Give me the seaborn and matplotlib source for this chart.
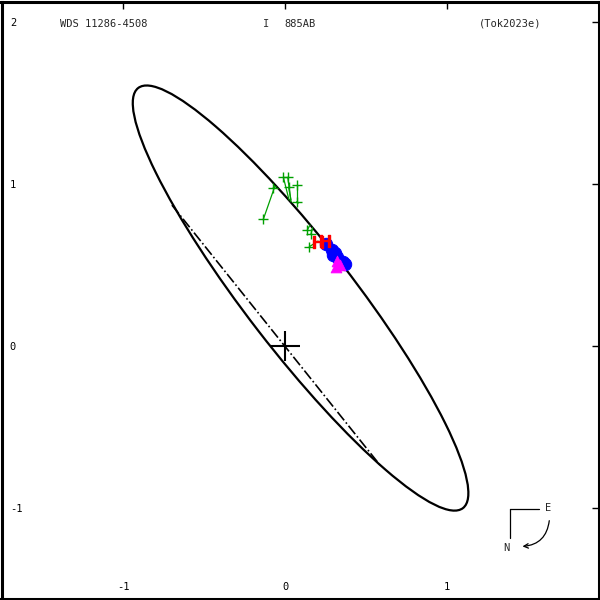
import matplotlib
matplotlib.use("Agg")
import matplotlib.pyplot as plt
from matplotlib.patches import Ellipse, FancyArrowPatch
import seaborn as sns
import pandas as pd

# apparent orbit
orbit_center = (0.096, 0.296)
orbit_major = 3.278
orbit_minor = 0.660
orbit_angle = -52.3

# line of nodes
nodes_x = [-0.698, 0.586]
nodes_y = [0.870, -0.735]

# green visual measures and their predicted positions
green_x = [-0.134, -0.076, -0.010, 0.017, 0.023, 0.072, 0.072, 0.138, 0.160, 0.150]
green_y = [0.782, 0.973, 1.041, 1.041, 0.980, 0.994, 0.891, 0.716, 0.691, 0.613]
green_px = [-0.062, -0.055, 0.025, 0.037, 0.037, 0.072, 0.080, 0.154, 0.170, 0.204]
green_py = [0.988, 0.985, 0.901, 0.889, 0.901, 0.891, 0.880, 0.747, 0.730, 0.648]

red_x = [0.206, 0.247]
red_y = [0.644, 0.650]

blue_x = [0.253, 0.288, 0.309, 0.323, 0.294, 0.356, 0.370]
blue_y = [0.630, 0.593, 0.572, 0.548, 0.562, 0.520, 0.506]

pink_x = [0.321, 0.315, 0.340]
pink_y = [0.525, 0.488, 0.500]

ticks = [-1, 0, 1]
yticks = [-1, 0, 1, 2]

sns.set_style("white")
plt.rcParams['font.family'] = ['DejaVu Sans Mono']
plt.rcParams['axes.unicode_minus'] = False

fig = plt.figure(figsize=(6, 6), dpi=100)
ax = fig.add_axes([0.0025, 0.0025, 0.995, 0.995])

ax.add_patch(Ellipse(orbit_center, orbit_major, orbit_minor, angle=orbit_angle,
                     fill=False, color='black', lw=1.6))
ax.plot(nodes_x, nodes_y, color='black', ls='-.', lw=1.2)

for x0, y0, x1, y1 in zip(green_x, green_y, green_px, green_py):
    ax.plot([x0, x1], [y0, y1], color='#00a000', lw=0.9)
ax.plot(green_x, green_y, ls='none', marker='+', ms=7, mew=1, color='#00a000')

ax.plot(red_x, red_y, ls='none', marker=r'$\mathrm{H}$', ms=9, color='red',
        zorder=5)

blue = pd.DataFrame({'x': blue_x, 'y': blue_y})
sns.scatterplot(data=blue, x='x', y='y', ax=ax, color='blue', s=80,
                edgecolor='blue', zorder=3)
pink = pd.DataFrame({'x': pink_x, 'y': pink_y})
sns.scatterplot(data=pink, x='x', y='y', ax=ax, color='#ff00ff', s=60,
                marker='^', edgecolor='#ff00ff', zorder=4)

ax.plot([0], [0], marker='+', ms=22, mew=1.5, color='black')

ax.set_xlim(-1.750, 1.935)
ax.set_ylim(-1.559, 2.127)
ax.set_xlabel('')
ax.set_ylabel('')
ax.set_xticks(ticks)
ax.set_yticks(yticks)
ax.tick_params(direction='in', length=5, width=1, top=True, right=True,
               labelsize=7.5, colors='black')
ax.tick_params(axis='x', pad=-12)
ax.tick_params(axis='y', pad=-6)
for t in ax.get_yticklabels():
    t.set_horizontalalignment('left')
for s in ax.spines.values():
    s.set_linewidth(2.2)
    s.set_color('black')

ax.text(0.098, 0.963, 'WDS 11286-4508', transform=ax.transAxes, fontsize=7.5,
        va='center')
ax.text(0.438, 0.963, 'I', transform=ax.transAxes, fontsize=7.5, va='center')
ax.text(0.474, 0.963, '885AB', transform=ax.transAxes, fontsize=7.5, va='center')
ax.text(0.800, 0.963, '(Tok2023e)', transform=ax.transAxes, fontsize=7.5,
        va='center')

# compass
ax.plot([0.852, 0.900], [0.150, 0.150], color='black', lw=0.9,
        transform=ax.transAxes)
ax.plot([0.852, 0.852], [0.150, 0.102], color='black', lw=0.9,
        transform=ax.transAxes)
ax.text(0.915, 0.151, 'E', transform=ax.transAxes, fontsize=7.5,
        ha='center', va='center')
ax.text(0.846, 0.085, 'N', transform=ax.transAxes, fontsize=7.5,
        ha='center', va='center')
ax.add_patch(FancyArrowPatch((0.918, 0.135), (0.868, 0.087),
                             connectionstyle='arc3,rad=-0.45',
                             arrowstyle='->', mutation_scale=8, lw=0.9,
                             color='black', transform=ax.transAxes))

fig.savefig('out.png', dpi=100)
